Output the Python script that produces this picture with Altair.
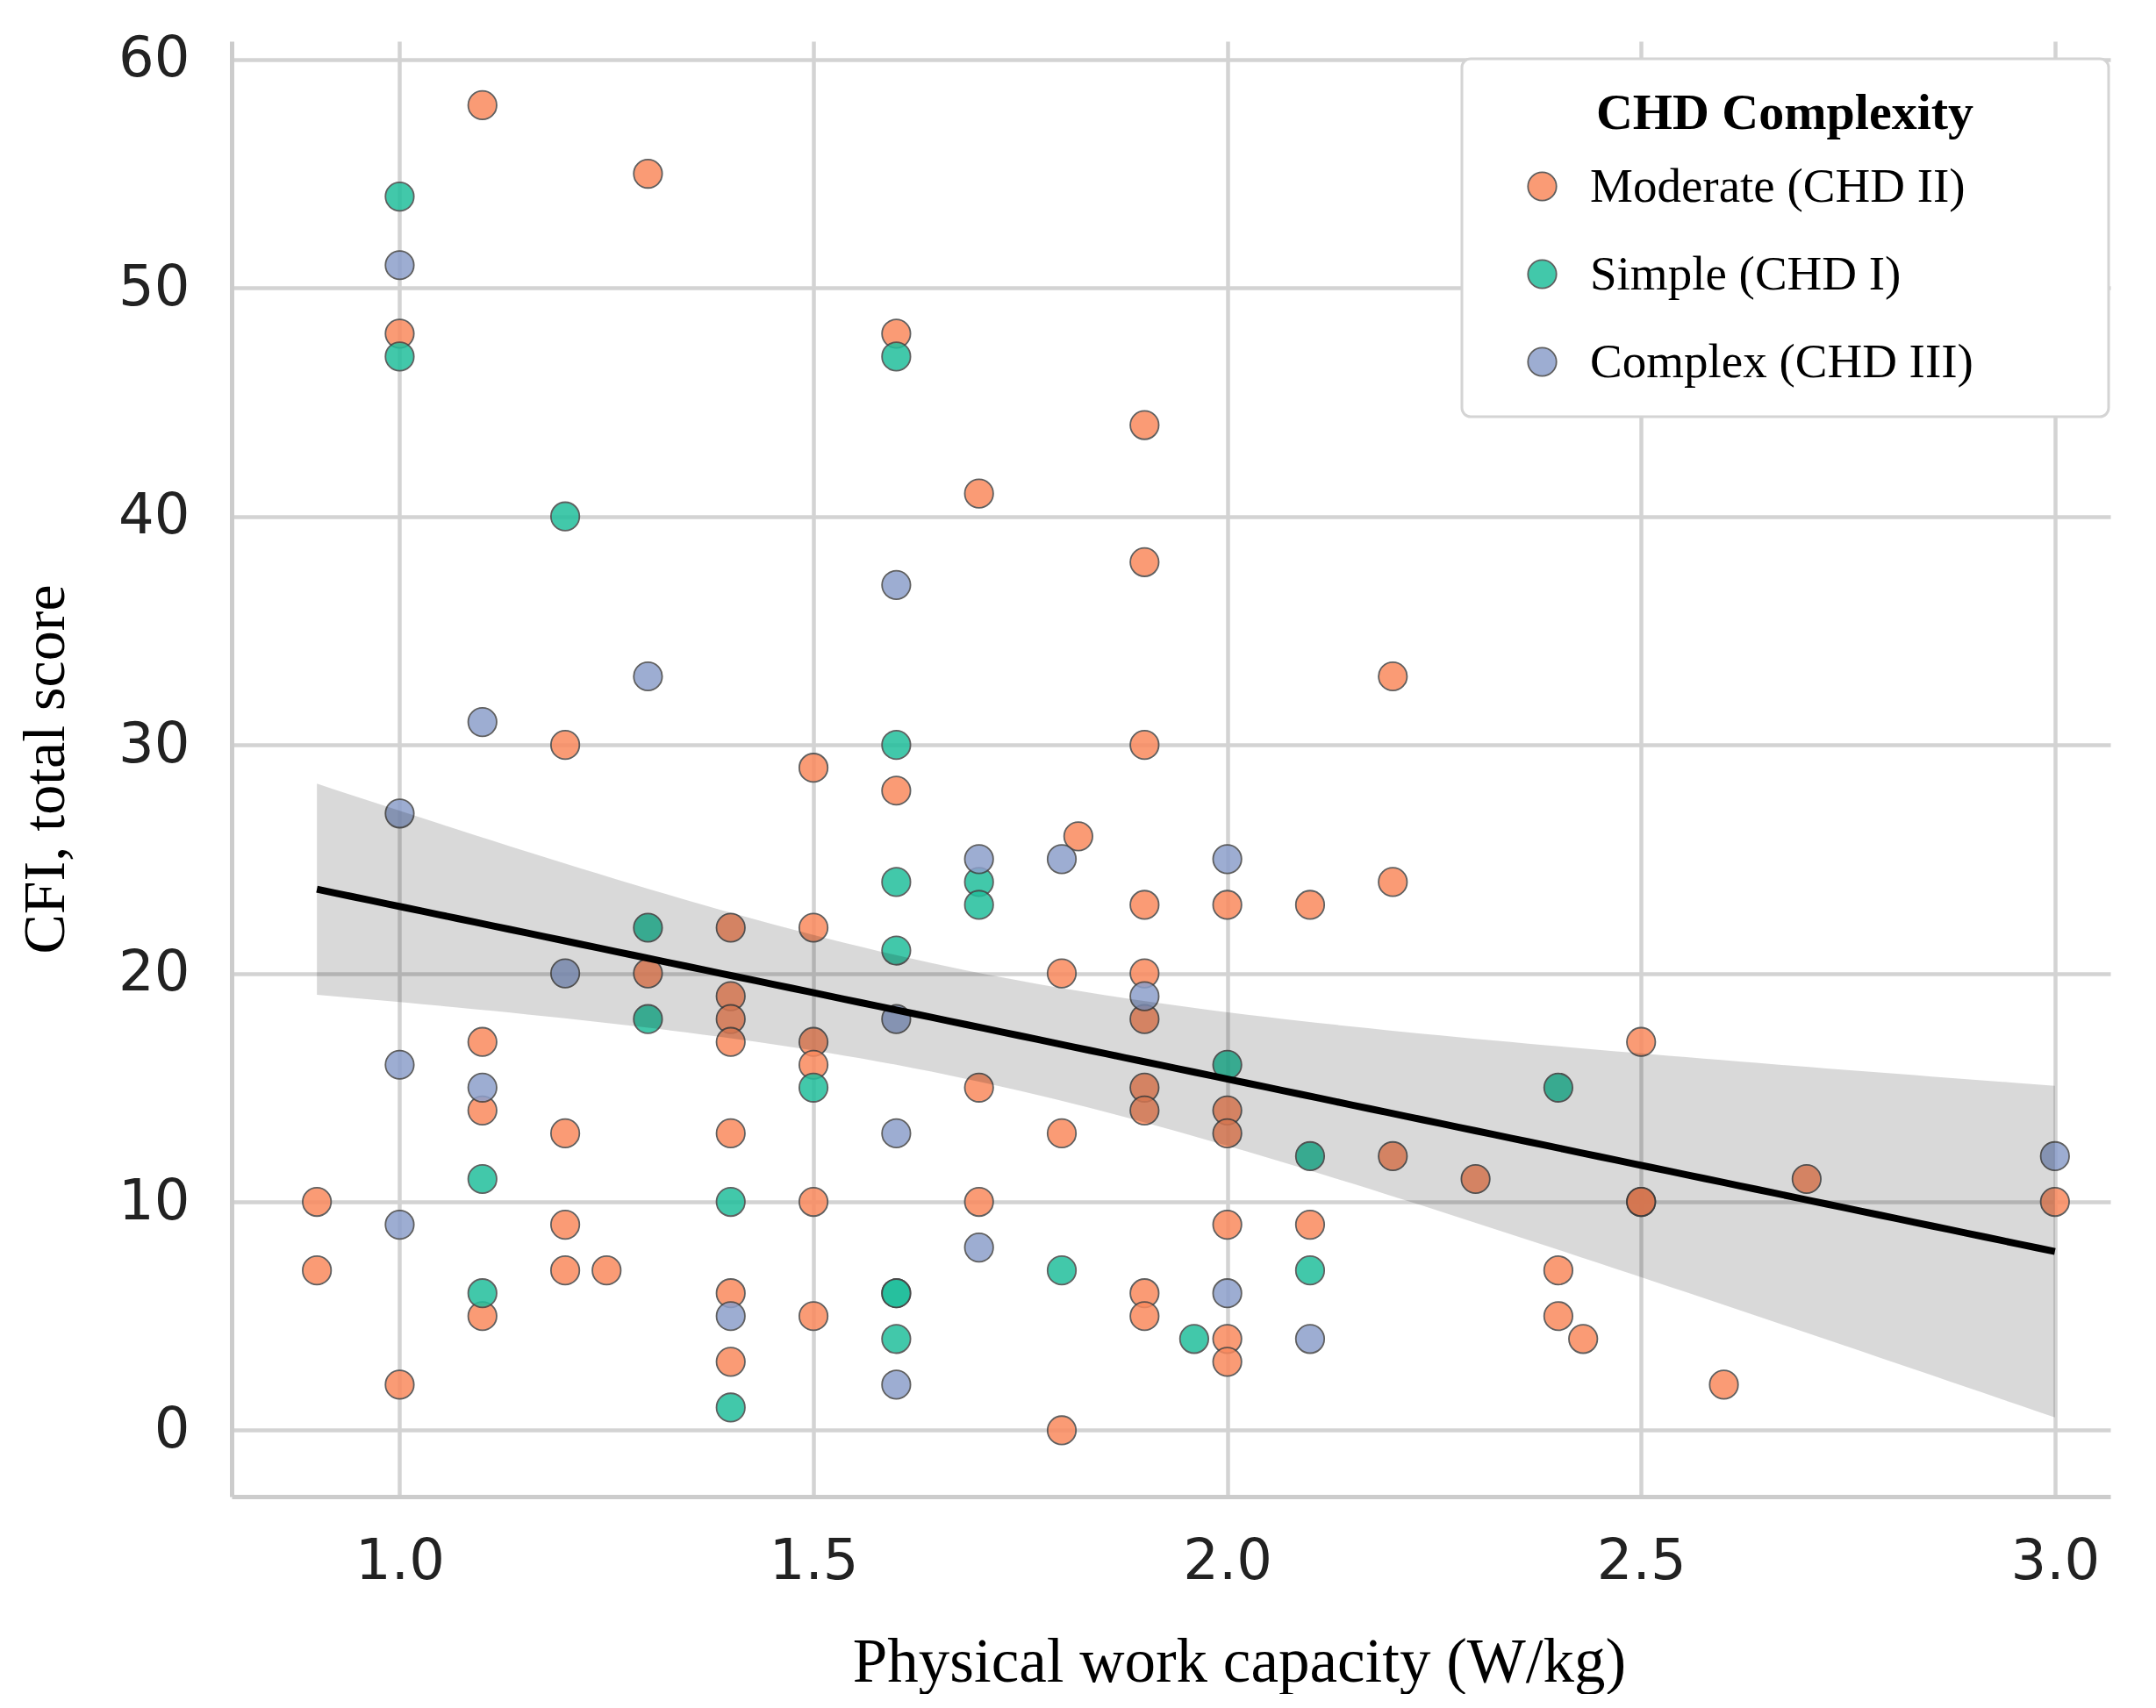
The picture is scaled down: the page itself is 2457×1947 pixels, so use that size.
import altair as alt
import pandas as pd
import numpy as np

# ---- data ----
moderate_x = [0.9, 0.9, 1.0, 1.0, 1.1, 1.1, 1.1, 1.1, 1.2, 1.2, 1.2, 1.2, 1.25,
              1.3, 1.3, 1.4, 1.4, 1.4, 1.4, 1.4, 1.4, 1.4,
              1.5, 1.5, 1.5, 1.5, 1.5, 1.5, 1.6, 1.6, 1.7, 1.7, 1.7,
              1.8, 1.8, 1.8, 1.82,
              1.9, 1.9, 1.9, 1.9, 1.9, 1.9, 1.9, 1.9, 1.9, 1.9,
              2.0, 2.0, 2.0, 2.0, 2.0, 2.0, 2.1, 2.1, 2.2, 2.2, 2.2,
              2.3, 2.4, 2.4, 2.43, 2.5, 2.5, 2.5, 2.6, 2.7, 3.0]
moderate_y = [10, 7, 48, 2, 58, 17, 14, 5, 30, 13, 9, 7, 7,
              55, 20, 22, 19, 18, 17, 13, 6, 3,
              29, 22, 17, 16, 10, 5, 48, 28, 41, 15, 10,
              20, 13, 0, 26,
              44, 38, 30, 23, 20, 18, 15, 14, 6, 5,
              23, 14, 13, 9, 4, 3, 23, 9, 33, 24, 12,
              11, 7, 5, 4, 17, 10, 10, 2, 11, 10]

simple_x = [1.0, 1.0, 1.1, 1.1, 1.2, 1.3, 1.3, 1.4, 1.4, 1.5,
            1.6, 1.6, 1.6, 1.6, 1.6, 1.6, 1.6, 1.7, 1.7, 1.8, 1.96,
            2.0, 2.1, 2.1, 2.4]
simple_y = [54, 47, 11, 6, 40, 22, 18, 10, 1, 15,
            47, 30, 24, 21, 6, 6, 4, 24, 23, 7, 4,
            16, 12, 7, 15]

complex_x = [1.0, 1.0, 1.0, 1.0, 1.1, 1.1, 1.2, 1.3, 1.4,
             1.6, 1.6, 1.6, 1.6, 1.7, 1.7, 1.8, 1.9, 2.0, 2.0, 2.1, 3.0]
complex_y = [51, 27, 16, 9, 31, 15, 20, 33, 5,
             37, 18, 13, 2, 25, 8, 25, 19, 25, 6, 4, 12]

groups = ["Moderate (CHD II)", "Simple (CHD I)", "Complex (CHD III)"]
colors = ["#fa8a5e", "#22bf9c", "#8c9fcb"]

df = pd.concat([
    pd.DataFrame({"pwc": moderate_x, "cfi": moderate_y, "grp": groups[0]}),
    pd.DataFrame({"pwc": simple_x, "cfi": simple_y, "grp": groups[1]}),
    pd.DataFrame({"pwc": complex_x, "cfi": complex_y, "grp": groups[2]}),
], ignore_index=True)

# ---- linear fit with 95% confidence band, computed from the data ----
x = df["pwc"].to_numpy(float)
y = df["cfi"].to_numpy(float)
n = len(x)
slope, intercept = np.polyfit(x, y, 1)
resid = y - (intercept + slope * x)
s = np.sqrt(np.sum(resid ** 2) / (n - 2))
xbar = x.mean()
sxx = np.sum((x - xbar) ** 2)
xs = np.linspace(x.min(), x.max(), 100)
yhat = intercept + slope * xs
se = s * np.sqrt(1.0 / n + (xs - xbar) ** 2 / sxx)
tval = 1.98
fit = pd.DataFrame({"pwc": xs, "fit": yhat, "lo": yhat - tval * se, "hi": yhat + tval * se})

xscale = alt.Scale(domain=[0.797, 3.067], nice=False, zero=False)
yscale = alt.Scale(domain=[-2.9, 60.8], nice=False, zero=False)

xaxis = alt.Axis(values=[1.0, 1.5, 2.0, 2.5, 3.0], format=".1f",
                 title="Physical work capacity (W/kg)",
                 titleX=1148, titleAlign="center")
yaxis = alt.Axis(values=[0, 10, 20, 30, 40, 50, 60], format="d",
                 title="CFI, total score")

# invisible (non-whitespace blank) characters to widen the legend box
PAD = "\u2800" * 3

points = alt.Chart(df).mark_circle(
    size=1050, opacity=0.85, stroke="#444444", strokeWidth=1.8
).encode(
    x=alt.X("pwc:Q", scale=xscale, axis=xaxis),
    y=alt.Y("cfi:Q", scale=yscale, axis=yaxis),
    color=alt.Color(
        "grp:N",
        scale=alt.Scale(domain=groups, range=colors),
        legend=alt.Legend(
            title="CHD Complexity",
            orient="none",
            legendX=1402,
            legendY=20,
            padding=34,
            fillColor="white",
            strokeColor="#d4d4d4",
            cornerRadius=10,
            titleFont="Liberation Serif",
            titleFontSize=58,
            titleFontWeight="bold",
            titleColor="black",
            titlePadding=26,
            titleLimit=1000,
            labelFont="Liberation Serif",
            labelFontSize=55,
            labelColor="black",
            labelOffset=27,
            labelLimit=1200,
            labelExpr="datum.label + '" + PAD + "'",
            symbolType="circle",
            symbolSize=1050,
            symbolOpacity=0.85,
            symbolStrokeColor="#444444",
            symbolStrokeWidth=1.8,
            symbolOffset=30,
        ),
    ),
)

band = alt.Chart(fit).mark_area(color="black", opacity=0.15).encode(
    x=alt.X("pwc:Q", scale=xscale),
    y=alt.Y("lo:Q", scale=yscale),
    y2="hi:Q",
)

line = alt.Chart(fit).mark_line(color="black", strokeWidth=8).encode(
    x=alt.X("pwc:Q", scale=xscale),
    y=alt.Y("fit:Q", scale=yscale),
)

chart = alt.layer(points, band, line).properties(
    width=2141,
    height=1659,
    padding={"left": 256, "top": 39, "right": 20, "bottom": 225},
    autosize=alt.AutoSizeParams(type="none"),
    background="white",
).configure_view(
    stroke=None
).configure_legend(
    strokeWidth=3,
    titleAnchor="middle",
    rowPadding=44,
).configure_axis(
    grid=True,
    gridColor="#d3d3d3",
    gridWidth=4.5,
    domainColor="#cccccc",
    domainWidth=5,
    ticks=False,
    labelFont="DejaVu Sans",
    labelFontSize=64,
    labelColor="#222222",
    titleFont="Liberation Serif",
    titleFontSize=71,
    titleFontWeight="normal",
    titleColor="black",
).configure_axisX(
    labelPadding=42,
    titlePadding=48,
).configure_axisY(
    labelPadding=48,
    titlePadding=48,
    titleFontSize=68,
)

chart.save("out.html", embed_options={"renderer": "svg", "actions": False})
